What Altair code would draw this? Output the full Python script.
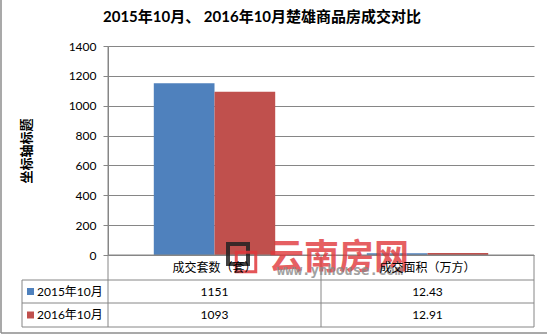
import altair as alt
import pandas as pd

# ---- data ----
categories = ["成交套数（套）", "成交面积（万方）"]
series = ["2015年10月", "2016年10月"]
values_2015 = [1151, 12.43]
values_2016 = [1093, 12.91]
labels_2015 = ["1151", "12.43"]
labels_2016 = ["1093", "12.91"]
y_ticks = [0, 200, 400, 600, 800, 1000, 1200, 1400]
title_text = "2015年10月、 2016年10月楚雄商品房成交对比"
y_title = "坐标轴标题"
watermark_cn = "云南房网"
watermark_url = "www.ynhouse.com"

colors = ["#4F81BD", "#C0504D"]
LINE = "#868686"
FONT = "Lato, Noto Sans CJK SC"
CJK = "Noto Sans CJK SC"

rows = []
for s, vals, labs in ((series[0], values_2015, labels_2015), (series[1], values_2016, labels_2016)):
    for c, v, l in zip(categories, vals, labs):
        rows.append({"category": c, "series": s, "value": v, "label": l})
df = pd.DataFrame(rows)
one = pd.DataFrame({"k": [0]})

W, H = 426, 209
PL, PT = 108, 46

x_enc = alt.X("category:N", sort=categories,
              scale=alt.Scale(paddingInner=0.43, paddingOuter=0.215), axis=None)
color_enc = alt.Color("series:N", sort=series,
                      scale=alt.Scale(domain=series, range=colors), legend=None)

bars = alt.Chart(df).mark_bar().encode(
    x=x_enc,
    xOffset=alt.XOffset("series:N", sort=series, scale=alt.Scale(paddingInner=0, paddingOuter=0)),
    y=alt.Y("value:Q", scale=alt.Scale(domain=[0, 1400], nice=False),
            axis=alt.Axis(values=y_ticks, format="d", grid=True, gridColor=LINE, gridWidth=1,
                          domain=True, domainColor=LINE, ticks=True, tickColor=LINE,
                          tickSize=5, labelPadding=7, labelFont=FONT, labelFontSize=12,
                          labelColor="#000000", title=y_title, titleFont=CJK,
                          titleFontSize=13, titleFontWeight="bold", titleColor="#000000",
                          titleAngle=270, titleX=-82, titleY=H / 2, titleAlign="center",
                          titleBaseline="middle")),
    color=color_enc,
)

layers = [bars]


def rule(x1, x2, y1, y2, color=LINE, width=1):
    return alt.Chart(one).mark_rule(color=color, strokeWidth=width).encode(
        x=alt.value(x1), x2=alt.value(x2), y=alt.value(y1), y2=alt.value(y2))


# data table grid
layers += [
    rule(0, W, H, H),
    rule(-86, W, 234, 234),
    rule(-86, W, 257, 257),
    rule(-86, W, 281, 281),
    rule(-86, -86, 234, 281),
    rule(0, 0, 0, 281),
    rule(213, 213, H, 281),
    rule(W, W, H, 281),
    # outer frame
    rule(-107, -107, -46, 287, "#8c8c8c", 1.5),
    rule(-107, 439, 287, 287, "#8c8c8c", 1.5),
]

# watermark
layers += [
    alt.Chart(one).mark_point(shape="square", filled=False, size=400, strokeWidth=4,
                              color="#222222", opacity=0.85).encode(
        x=alt.value(130), y=alt.value(208)),
    alt.Chart(one).mark_point(shape="square", filled=False, size=380, strokeWidth=3,
                              color="#e0383c", opacity=0.85).encode(
        x=alt.value(138), y=alt.value(216)),
    alt.Chart(pd.DataFrame({"t": [watermark_cn]})).mark_text(
        font=CJK, fontSize=35, fontWeight="bold", color="#e0383c", opacity=0.8,
        align="center", baseline="middle").encode(
        x=alt.value(231), y=alt.value(212), text="t:N"),
    alt.Chart(pd.DataFrame({"t": [watermark_url]})).mark_text(
        font="DejaVu Sans Mono", fontSize=14, fontWeight="bold", color="#8a8a8a",
        opacity=0.8, align="center", baseline="middle").encode(
        x=alt.value(232), y=alt.value(225), text="t:N"),
]

# table header
layers.append(
    alt.Chart(df).transform_filter(alt.datum.series == series[0]).mark_text(
        font=FONT, fontSize=12, color="#000000", baseline="middle").encode(
        x=x_enc, y=alt.value(222), text="category:N"))

row_y = [245.5, 269]
for i, s in enumerate(series):
    layers.append(
        alt.Chart(df).transform_filter(alt.datum.series == s).mark_text(
            font=FONT, fontSize=12, color="#000000", baseline="middle").encode(
            x=x_enc, y=alt.value(row_y[i]), text="label:N"))
    layers.append(
        alt.Chart(df).transform_filter(
            (alt.datum.series == s) & (alt.datum.category == categories[0])).mark_square(
            size=49, opacity=1).encode(
            x=alt.value(-77.5), y=alt.value(row_y[i]), color=color_enc))
    layers.append(
        alt.Chart(df).transform_filter(
            (alt.datum.series == s) & (alt.datum.category == categories[0])).mark_text(
            font=FONT, fontSize=12, color="#000000", align="left", baseline="middle").encode(
            x=alt.value(-71), y=alt.value(row_y[i]), text="series:N"))

# title
layers.append(
    alt.Chart(pd.DataFrame({"t": [title_text]})).mark_text(
        font=FONT, fontSize=15, fontWeight="bold", color="#000000",
        align="center", baseline="middle").encode(
        x=alt.value(154), y=alt.value(-29), text="t:N"))

chart = alt.layer(*layers).properties(
    width=W, height=H,
    autosize=alt.AutoSizeParams(type="none"),
    padding={"left": PL, "top": PT, "right": 547 - PL - W, "bottom": 336 - PT - H},
    background="white",
).configure_view(stroke=None)

chart.save("out.html", embed_options={"renderer": "svg", "actions": False})
